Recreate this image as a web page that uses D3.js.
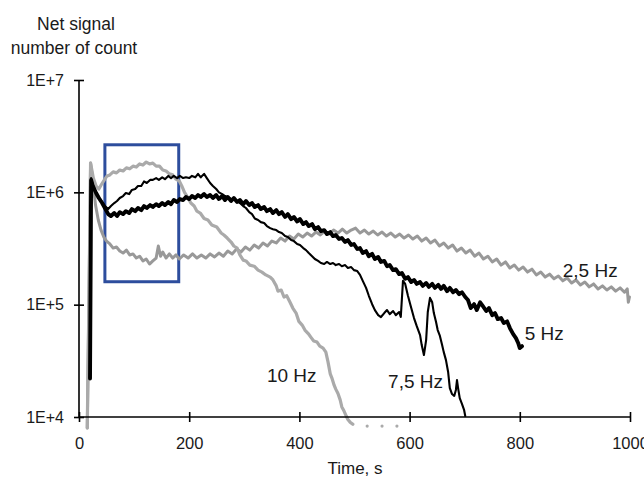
<!DOCTYPE html>
<html>
<head>
<meta charset="utf-8">
<script src="https://cdn.jsdelivr.net/npm/d3@7/dist/d3.min.js"></script>
<style>
  html, body { margin: 0; padding: 0; background: #fff; }
  svg text { font-family: "Liberation Sans", Arial, sans-serif; fill: #1a1a1a; }
</style>
</head>
<body>
<svg id="chart" width="644" height="477"></svg>
<script>
// Net signal (counts) versus time for four pulse frequencies, [time s, counts]
const series25 = [
  [15, 8.0e3], [18, 1.1e5], [21, 1.82e6], [25, 1.29e6], [30, 7.7e5], [35, 5.67e5], [40, 4.61e5],
  [45, 4.0e5], [50, 3.68e5], [56, 3.47e5], [62, 3.19e5], [68, 3.26e5], [74, 3.0e5], [80, 2.88e5],
  [86, 3.06e5], [92, 2.77e5], [98, 2.83e5], [104, 2.6e5], [110, 2.7e5], [116, 2.45e5], [122, 2.55e5],
  [128, 2.3e5], [134, 2.45e5], [140, 2.6e5], [144, 3.33e5], [148, 2.7e5], [152, 2.94e5], [158, 2.6e5],
  [164, 2.83e5], [170, 2.6e5], [176, 2.77e5], [182, 2.55e5], [190, 2.77e5], [198, 2.6e5], [206, 2.83e5],
  [214, 2.6e5], [222, 2.77e5], [230, 2.6e5], [238, 2.83e5], [246, 2.66e5], [254, 2.88e5], [262, 2.7e5],
  [270, 3.0e5], [278, 2.83e5], [286, 3.13e5], [294, 2.94e5], [302, 3.26e5], [310, 3.06e5], [318, 3.4e5],
  [326, 3.19e5], [334, 3.54e5], [342, 3.33e5], [350, 3.68e5], [358, 3.54e5], [366, 3.92e5], [374, 3.68e5],
  [382, 4.08e5], [390, 3.84e5], [398, 4.25e5], [406, 4.0e5], [414, 4.34e5], [422, 4.08e5], [430, 4.43e5],
  [438, 4.17e5], [446, 4.52e5], [454, 4.25e5], [462, 4.61e5], [470, 4.34e5], [478, 4.7e5], [486, 4.34e5],
  [494, 4.61e5], [502, 4.8e5], [510, 4.34e5], [518, 4.61e5], [526, 4.25e5], [534, 4.52e5], [542, 4.17e5],
  [550, 4.43e5], [558, 4.08e5], [566, 4.34e5], [574, 4.0e5], [582, 4.25e5], [590, 3.92e5], [598, 4.17e5],
  [606, 3.84e5], [614, 4.08e5], [622, 3.68e5], [630, 3.92e5], [638, 3.54e5], [646, 3.76e5], [654, 3.33e5],
  [662, 3.54e5], [670, 3.19e5], [678, 3.4e5], [686, 3.0e5], [694, 3.19e5], [702, 2.88e5], [710, 3.06e5],
  [718, 2.7e5], [726, 2.88e5], [734, 2.55e5], [742, 2.7e5], [750, 2.4e5], [758, 2.55e5], [766, 2.25e5],
  [774, 2.4e5], [782, 2.12e5], [790, 2.25e5], [798, 2.03e5], [806, 2.16e5], [814, 1.95e5], [822, 2.07e5],
  [830, 1.84e5], [838, 1.95e5], [846, 1.76e5], [854, 1.87e5], [862, 1.7e5], [870, 1.8e5], [878, 1.63e5],
  [886, 1.73e5], [894, 1.56e5], [902, 1.66e5], [910, 1.5e5], [918, 1.59e5], [926, 1.44e5], [934, 1.53e5],
  [942, 1.38e5], [950, 1.47e5], [958, 1.35e5], [966, 1.44e5], [974, 1.32e5], [982, 1.41e5], [990, 1.29e5],
  [995, 1.38e5], [997, 1.05e5], [999, 1.17e5]
];

const series5 = [
  [20, 2.2e4], [22, 1.29e6], [25, 1.14e6], [31, 9.86e5], [36, 8.9e5], [42, 8.03e5], [47, 7.25e5],
  [53, 6.4e5], [58, 6.15e5], [64, 6.54e5], [69, 6.15e5], [74, 6.66e5], [80, 6.4e5], [85, 6.8e5],
  [91, 6.54e5], [96, 7.1e5], [102, 6.8e5], [107, 7.25e5], [113, 6.95e5], [118, 7.55e5], [123, 7.25e5],
  [129, 7.7e5], [134, 7.4e5], [140, 7.85e5], [145, 7.55e5], [151, 8.03e5], [156, 7.7e5], [162, 8.2e5],
  [167, 7.85e5], [172, 8.54e5], [178, 8.2e5], [183, 8.72e5], [189, 8.54e5], [194, 9.08e5], [200, 8.72e5],
  [205, 9.27e5], [211, 8.9e5], [216, 9.46e5], [221, 9.08e5], [227, 9.65e5], [232, 9.08e5], [238, 9.46e5],
  [243, 8.9e5], [249, 9.46e5], [254, 8.72e5], [260, 9.27e5], [265, 8.54e5], [270, 9.08e5], [276, 8.37e5],
  [281, 8.9e5], [287, 8.2e5], [292, 8.54e5], [298, 7.85e5], [303, 8.37e5], [309, 7.7e5], [314, 8.03e5],
  [319, 7.4e5], [325, 7.7e5], [330, 7.1e5], [336, 7.4e5], [341, 6.8e5], [347, 7.1e5], [352, 6.54e5],
  [358, 6.95e5], [363, 6.4e5], [368, 6.66e5], [374, 6.03e5], [379, 6.4e5], [385, 5.78e5], [390, 6.03e5],
  [396, 5.5e5], [401, 5.78e5], [407, 5.22e5], [412, 5.43e5], [417, 5.01e5], [423, 5.22e5], [428, 4.7e5],
  [434, 4.91e5], [439, 4.52e5], [445, 4.61e5], [450, 4.25e5], [456, 4.43e5], [461, 4.08e5], [466, 4.17e5],
  [472, 3.84e5], [477, 3.92e5], [483, 3.61e5], [488, 3.76e5], [494, 3.4e5], [499, 3.47e5], [505, 3.13e5],
  [510, 3.19e5], [515, 2.88e5], [521, 3.0e5], [526, 2.7e5], [532, 2.83e5], [537, 2.55e5], [543, 2.66e5],
  [548, 2.4e5], [554, 2.45e5], [559, 2.2e5], [564, 2.25e5], [570, 2.03e5], [575, 2.07e5], [581, 1.87e5],
  [586, 1.91e5], [592, 1.7e5], [597, 1.76e5], [603, 1.59e5], [608, 1.66e5], [613, 1.53e5], [619, 1.59e5],
  [624, 1.47e5], [630, 1.56e5], [635, 1.44e5], [641, 1.53e5], [646, 1.41e5], [652, 1.5e5], [657, 1.38e5],
  [662, 1.47e5], [668, 1.32e5], [673, 1.41e5], [679, 1.29e5], [684, 1.35e5], [690, 1.24e5], [695, 1.29e5],
  [701, 1.17e5], [706, 1.1e5], [711, 9.33e4], [717, 1.01e5], [722, 8.95e4], [728, 1.05e5], [733, 9.7e4],
  [739, 8.78e4], [744, 9.33e4], [750, 8.07e4], [755, 8.42e4], [760, 7.44e4], [766, 7.6e4], [771, 6.86e4],
  [777, 7.1e4], [782, 6.19e4], [788, 5.46e4], [793, 5.04e4], [797, 4.56e4], [800, 4.11e4], [804, 4.27e4]
];

const series75 = [
  [20, 2.2e4], [22, 1.34e6], [25, 1.16e6], [31, 1.0e6], [36, 9.08e5], [42, 8.2e5], [47, 7.55e5],
  [53, 7.1e5], [58, 7.55e5], [64, 8.03e5], [69, 8.37e5], [74, 8.9e5], [80, 9.27e5], [85, 9.86e5],
  [91, 9.65e5], [96, 1.05e6], [102, 1.07e6], [107, 1.14e6], [113, 1.14e6], [118, 1.25e6], [123, 1.21e6],
  [129, 1.29e6], [134, 1.29e6], [140, 1.34e6], [145, 1.29e6], [151, 1.36e6], [156, 1.31e6], [162, 1.4e6],
  [167, 1.34e6], [172, 1.4e6], [178, 1.34e6], [183, 1.4e6], [189, 1.34e6], [194, 1.36e6], [200, 1.34e6],
  [205, 1.4e6], [211, 1.36e6], [216, 1.46e6], [221, 1.36e6], [227, 1.46e6], [232, 1.34e6], [238, 1.21e6],
  [243, 1.14e6], [249, 1.07e6], [254, 1.0e6], [260, 9.65e5], [265, 9.27e5], [270, 9.08e5], [276, 8.72e5],
  [281, 8.72e5], [287, 8.37e5], [292, 8.03e5], [298, 7.55e5], [303, 7.25e5], [309, 6.66e5], [314, 6.4e5],
  [319, 5.85e5], [325, 5.67e5], [330, 5.43e5], [336, 5.33e5], [341, 5.01e5], [347, 4.8e5], [352, 4.7e5],
  [358, 4.61e5], [363, 4.43e5], [368, 4.34e5], [374, 4.08e5], [379, 4.0e5], [385, 3.76e5], [390, 3.68e5],
  [396, 3.47e5], [401, 3.4e5], [407, 3.19e5], [412, 3.06e5], [417, 2.88e5], [423, 2.7e5], [428, 2.55e5],
  [434, 2.45e5], [439, 2.35e5], [445, 2.3e5], [450, 2.4e5], [456, 2.3e5], [461, 2.35e5], [466, 2.25e5],
  [472, 2.3e5], [477, 2.2e5], [483, 2.25e5], [488, 2.12e5], [494, 2.16e5], [499, 2.03e5], [505, 1.99e5],
  [510, 1.84e5], [515, 1.63e5], [521, 1.41e5], [526, 1.2e5], [532, 1.01e5], [537, 8.95e4], [543, 8.07e4],
  [548, 7.76e4], [554, 8.42e4], [559, 8.95e4], [564, 8.24e4], [570, 8.78e4], [575, 8.07e4], [581, 8.6e4],
  [584, 7.76e4], [588, 1.63e5], [592, 1.53e5], [597, 1.2e5], [603, 9.33e4], [608, 7.6e4], [613, 6.44e4],
  [619, 5.36e4], [622, 4.37e4], [626, 3.56e4], [630, 4.84e4], [633, 8.6e4], [637, 1.15e5], [641, 1.05e5],
  [644, 8.42e4], [648, 7.0e4], [651, 5.94e4], [655, 5.27e4], [659, 4.37e4], [662, 3.78e4], [666, 3.21e4],
  [670, 2.5e4], [673, 1.81e4], [677, 1.6e4], [681, 1.54e4], [684, 1.74e4], [686, 2.13e4], [688, 1.81e4],
  [691, 1.47e4], [695, 1.31e4], [699, 1.15e4], [701, 1.02e4]
];

const series10 = [
  [15, 8.0e3], [18, 1.1e5], [21, 1.82e6], [26, 1.34e6], [31, 1.14e6], [36, 1.07e6], [41, 1.18e6],
  [46, 1.29e6], [51, 1.4e6], [56, 1.43e6], [62, 1.52e6], [68, 1.49e6], [74, 1.58e6], [80, 1.55e6],
  [86, 1.65e6], [92, 1.62e6], [98, 1.71e6], [104, 1.68e6], [110, 1.79e6], [116, 1.75e6], [122, 1.86e6],
  [128, 1.79e6], [134, 1.82e6], [140, 1.71e6], [146, 1.71e6], [152, 1.58e6], [158, 1.55e6], [164, 1.46e6],
  [170, 1.43e6], [176, 1.31e6], [182, 1.26e6], [186.5, 1.14e6], [191.5, 1.0e6], [197, 9.08e5], [203, 8.03e5],
  [209, 7.55e5], [214, 6.8e5], [220, 6.54e5], [227, 5.85e5], [234, 5.67e5], [241, 5.12e5], [250, 4.91e5],
  [258, 4.34e5], [263, 4.17e5], [269, 3.92e5], [276, 3.61e5], [281, 3.33e5], [287, 3.19e5], [292, 2.77e5],
  [298, 2.49e5], [303, 2.45e5], [310, 2.25e5], [318, 2.2e5], [325, 2.03e5], [332, 1.95e5], [339, 1.84e5],
  [347, 1.76e5], [352, 1.66e5], [358, 1.47e5], [361, 1.32e5], [367, 1.35e5], [372, 1.17e5], [377, 1.2e5],
  [383, 1.05e5], [388, 9.33e4], [394, 8.42e4], [399, 7.1e4], [405, 6.58e4], [410, 5.94e4], [416, 5.53e4],
  [421, 5.12e4], [426, 4.75e4], [432, 4.65e4], [437, 4.27e4], [443, 4.11e4], [448, 3.78e4], [452, 3.08e4],
  [456, 2.42e4], [459, 2.22e4], [463, 1.92e4], [466, 1.77e4], [470, 1.62e4], [474, 1.42e4], [477, 1.23e4],
  [481, 1.13e4], [485, 1.02e4], [488, 9.5e3], [492, 9.0e3], [497, 8.6e3]
];
// isolated low readings after the 10 Hz signal dies out
const tail10 = [[523, 8.3e3], [550, 8.3e3], [577, 8.3e3]];

const xTicks = [0, 200, 400, 600, 800, 1000];
const yTicks = [1e4, 1e5, 1e6, 1e7];
const yTickLabels = ["1E+4", "1E+5", "1E+6", "1E+7"];

const svg = d3.select("#chart");
const x = d3.scaleLinear().domain([0, 1000]).range([79, 630]);
const y = d3.scaleLog().domain([1e4, 1e7]).range([417, 80]);

const line = d3.line().x(d => x(d[0])).y(d => y(d[1]));

// highlighted early-time window
svg.append("rect")
  .attr("x", x(47)).attr("y", y(2.65e6))
  .attr("width", x(181) - x(47)).attr("height", y(1.6e5) - y(2.65e6))
  .attr("fill", "none").attr("stroke", "#2d4d9d").attr("stroke-width", 3);

const curves = [
  { data: series25, color: "#999999", width: 3 },
  { data: series10, color: "#aaaaaa", width: 3.2 },
  { data: series5, color: "#000", width: 3.9 },
  { data: series75, color: "#000", width: 2.1 }
];
curves.forEach(c => {
  svg.append("path").datum(c.data)
    .attr("d", line)
    .attr("fill", "none").attr("stroke", c.color)
    .attr("stroke-width", c.width)
    .attr("stroke-linejoin", "round").attr("stroke-linecap", "round");
});

svg.selectAll("circle.tail").data(tail10).join("circle")
  .attr("class", "tail")
  .attr("cx", d => x(d[0])).attr("cy", d => y(d[1]))
  .attr("r", 1.6).attr("fill", "#aaa");

// axes: ticks cross the axis lines
const xAxis = svg.append("g").attr("transform", `translate(0,${y(1e4)})`)
  .call(d3.axisBottom(x).tickValues(xTicks).tickSize(5).tickFormat(d3.format("d")));
xAxis.select(".domain").attr("d", `M${x(0)},0H${x(1000)}`).attr("stroke-width", 1.6);
xAxis.selectAll(".tick line").attr("y1", -5).attr("y2", 5).attr("stroke-width", 1.6);
xAxis.selectAll(".tick text").attr("y", 20).attr("dy", "0.71em")
  .style("font-size", "16.5px").style("font-family", "'Liberation Sans', Arial, sans-serif").attr("fill", "#1a1a1a");

const yAxis = svg.append("g").attr("transform", `translate(${x(0)},0)`)
  .call(d3.axisLeft(y).tickValues(yTicks).tickSize(5).tickFormat((d, i) => yTickLabels[i]));
yAxis.select(".domain").attr("d", `M0,${y(1e7)}V${y(1e4)}`).attr("stroke-width", 1.6);
yAxis.selectAll(".tick line").attr("x1", -5).attr("x2", 5).attr("stroke-width", 1.6);
yAxis.selectAll(".tick text").attr("x", -15)
  .style("font-size", "16px").style("font-family", "'Liberation Sans', Arial, sans-serif").attr("fill", "#1a1a1a");

// axis titles
svg.append("text").attr("x", 76).attr("y", 30).attr("text-anchor", "middle")
  .style("font-size", "17.5px").text("Net signal");
svg.append("text").attr("x", 74).attr("y", 54).attr("text-anchor", "middle")
  .style("font-size", "17.5px").text("number of count");
svg.append("text").attr("x", 355).attr("y", 474).attr("text-anchor", "middle")
  .style("font-size", "17px").text("Time, s");

// curve labels
const labels = [
  { text: "2,5 Hz", t: 878, v: 1.76e5 },
  { text: "5 Hz", t: 809, v: 4.84e4 },
  { text: "10 Hz", t: 341, v: 2.05e4 },
  { text: "7,5 Hz", t: 561, v: 1.81e4 }
];
svg.selectAll("text.lbl").data(labels).join("text")
  .attr("class", "lbl")
  .attr("x", d => x(d.t)).attr("y", d => y(d.v))
  .style("font-size", "19px").text(d => d.text);
</script>
</body>
</html>
